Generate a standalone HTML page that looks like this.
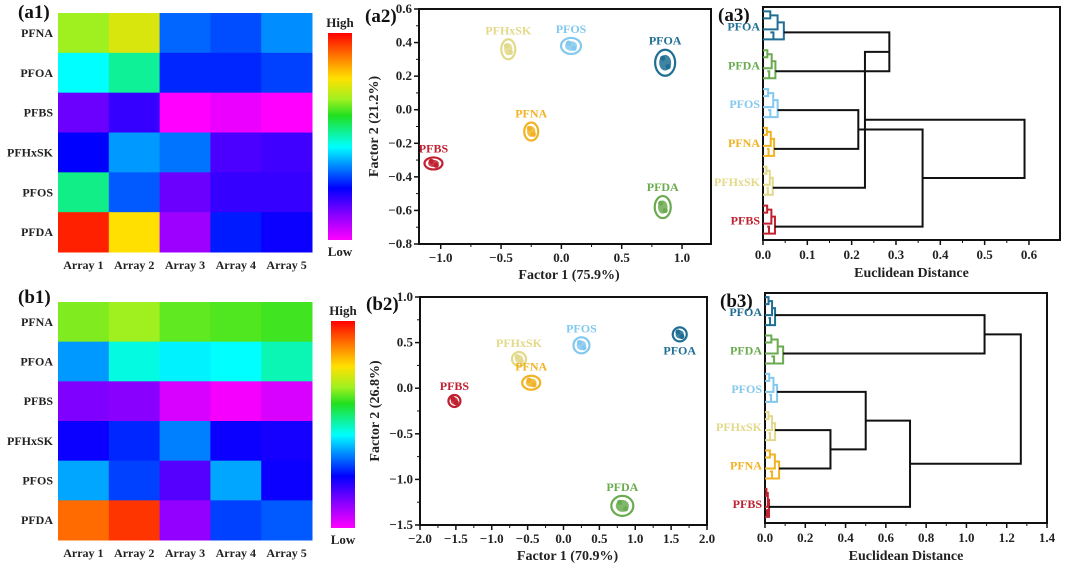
<!DOCTYPE html>
<html><head><meta charset="utf-8"><style>
html,body{margin:0;padding:0;background:#fff;}
svg{display:block;font-family:"Liberation Serif",serif;font-weight:bold;}
</style></head><body>
<svg id="fig" width="1070" height="575" viewBox="0 0 1070 575" xmlns="http://www.w3.org/2000/svg">
<defs>
<linearGradient id="cbar" x1="0" y1="1" x2="0" y2="0">
<stop offset="0" stop-color="#ff00ff"/><stop offset="0.13" stop-color="#8000ff"/><stop offset="0.25" stop-color="#0000ff"/><stop offset="0.35" stop-color="#0080ff"/><stop offset="0.45" stop-color="#00ffff"/><stop offset="0.6" stop-color="#20e020"/><stop offset="0.68" stop-color="#a0f020"/><stop offset="0.78" stop-color="#ffe000"/><stop offset="0.88" stop-color="#ff8000"/><stop offset="1" stop-color="#ff0000"/>
</linearGradient>
</defs>
</svg>
<script>
const compounds = ['PFNA','PFOA','PFBS','PFHxSK','PFOS','PFDA'];
const arrays = ['Array 1','Array 2','Array 3','Array 4','Array 5'];
const heatA = [[0.68,0.74,0.33,0.31,0.36],[0.45,0.52,0.28,0.28,0.30],[0.15,0.20,0.00,0.02,0.00],[0.25,0.37,0.34,0.18,0.19],[0.53,0.32,0.15,0.20,0.20],[0.97,0.78,0.10,0.27,0.24]];
const heatB = [[0.66,0.68,0.64,0.63,0.62],[0.37,0.47,0.44,0.45,0.50],[0.13,0.12,0.04,0.01,0.04],[0.24,0.28,0.35,0.24,0.23],[0.38,0.30,0.17,0.38,0.24],[0.90,0.95,0.11,0.30,0.32]];
const pcaNames = ['PFHxSK','PFOS','PFOA','PFNA','PFBS','PFDA'];
const pcaAx = [-0.44,0.08,0.86,-0.25,-1.06,0.84];
const pcaAy = [0.36,0.38,0.28,-0.13,-0.32,-0.58];
const pcaBx = [-0.62,0.25,1.62,-0.45,-1.52,0.82];
const pcaBy = [0.32,0.47,0.59,0.06,-0.14,-1.29];
const xTicksA = [-1.0,-0.5,0.0,0.5,1.0];
const yTicksA = [-0.8,-0.6,-0.4,-0.2,0.0,0.2,0.4,0.6];
const xTicksB = [-2.0,-1.5,-1.0,-0.5,0.0,0.5,1.0,1.5,2.0];
const yTicksB = [-1.5,-1.0,-0.5,0.0,0.5,1.0];
const dendLeavesA = ['PFOA','PFDA','PFOS','PFNA','PFHxSK','PFBS'];
const dendSubA = [0.047,0.028,0.033,0.025,0.022,0.027];
const dendMergeA = [[0,1,0.285],[2,3,0.215],[6,4,0.23],[7,5,0.36],[8,9,0.59]];
const dendTicksA = [0.0,0.1,0.2,0.3,0.4,0.5,0.6];
const dendLeavesB = ['PFOA','PFDA','PFOS','PFHxSK','PFNA','PFBS'];
const dendSubB = [0.05,0.09,0.06,0.05,0.07,0.02];
const dendMergeB = [[0,1,1.09],[3,4,0.325],[2,7,0.5],[8,5,0.72],[6,9,1.27]];
const dendTicksB = [0.0,0.2,0.4,0.6,0.8,1.0,1.2,1.4];

const colorOf = {PFOA:'#1f6e94',PFDA:'#6aab4f',PFOS:'#83c8ee',PFNA:'#f0b323',PFHxSK:'#e2d98a',PFBS:'#c0202f'};
const NS='http://www.w3.org/2000/svg';
const svg=document.getElementById('fig');
function mk(tag,attrs,parent){const e=document.createElementNS(NS,tag);for(const k in attrs)e.setAttribute(k,attrs[k]);(parent||svg).appendChild(e);return e;}
function txt(s,x,y,size,anchor,fill,parent){const t=mk('text',{x:x,y:y,'font-size':size,'text-anchor':anchor||'start',fill:fill||'#222'},parent);t.textContent=s;return t;}
const stops=[[0,[255,0,255]],[0.13,[128,0,255]],[0.25,[0,0,255]],[0.35,[0,128,255]],[0.45,[0,255,255]],[0.6,[32,224,32]],[0.68,[160,240,32]],[0.78,[255,224,0]],[0.88,[255,128,0]],[1,[255,0,0]]];
function cmap(v){for(let i=1;i<stops.length;i++){if(v<=stops[i][0]){const a=stops[i-1],b=stops[i],t=(v-a[0])/(b[0]-a[0]);return 'rgb('+a[1].map((c,j)=>Math.round(c+(b[1][j]-c)*t)).join(',')+')';}}return 'rgb(255,0,0)';}
function fmt(v){const s=Math.abs(v).toFixed(1);return (v<-1e-9?'\u2212':'')+s;}

function heatmap(name,data,x0,y0,x1,y1,cbx,cby0,cby1,label,ly){
  const g=mk('g',{});
  
  
  const cw=(x1-x0)/arrays.length,rh=(y1-y0)/compounds.length;
  data.forEach((row,r)=>row.forEach((v,c)=>{
    const rc=mk('rect',{x:x0+c*cw,y:y0+r*rh,width:cw+0.5,height:rh+0.5,fill:cmap(v)},g);
    
    
  }));
  compounds.forEach((n,r)=>{const t=txt(n,x0-5,y0+(r+0.5)*rh+4,12,'end','#222',g);});
  arrays.forEach((n,c)=>{const t=txt(n,x0+(c+0.5)*cw,y1+17,12,'middle','#222',g);});
  const cb=mk('rect',{x:cbx,y:cby0,width:24,height:cby1-cby0,fill:'url(#cbar)'},g);
  
  
  const hi=txt('High',cbx+12,cby0-6,13,'middle','#222',g);
  const lo=txt('Low',cbx+12,cby1+16,13,'middle','#222',g);
  const pl=txt(label,x0-40,ly,19,'start','#111',g);
}
heatmap('heatmap-a1',heatA,58,13,312,252,328,33,240,'(a1)',18);
heatmap('heatmap-b1',heatB,58,302,312,540,331,321,528,'(b1)',303);

function pca(name,xs,ys,nm,box,xd,yd,xt,yt,minorX,minorY,xtitle,ytitle,label,sizes,belowIdx){
  const g=mk('g',{});
  
  
  const [bx0,by0,bx1,by1]=box;
  const sx=v=>bx0+(v-xd[0])/(xd[1]-xd[0])*(bx1-bx0);
  const sy=v=>by1-(v-yd[0])/(yd[1]-yd[0])*(by1-by0);
  const fr=mk('rect',{x:bx0,y:by0,width:bx1-bx0,height:by1-by0,fill:'none',stroke:'#111','stroke-width':2},g);
  
  xt.forEach(v=>{mk('line',{x1:sx(v),x2:sx(v),y1:by1,y2:by1+5,stroke:'#111','stroke-width':1.5},g);
    const t=txt(fmt(v),sx(v),by1+18,13,'middle','#222',g);});
  for(let i=0;i<xt.length-1;i++){const v=(xt[i]+xt[i+1])/2;mk('line',{x1:sx(v),x2:sx(v),y1:by1,y2:by1+3,stroke:'#111','stroke-width':1},g);}
  yt.forEach(v=>{mk('line',{x1:bx0-5,x2:bx0,y1:sy(v),y2:sy(v),stroke:'#111','stroke-width':1.5},g);
    const t=txt(fmt(v),bx0-7,sy(v)+4,13,'end','#222',g);});
  for(let i=0;i<yt.length-1;i++){const v=(yt[i]+yt[i+1])/2;mk('line',{x1:bx0-3,x2:bx0,y1:sy(v),y2:sy(v),stroke:'#111','stroke-width':1},g);}
  const xtl=txt(xtitle,(bx0+bx1)/2+4,by1+35,14,'middle','#222',g);
  const cy=(by0+by1)/2;
  const ytl=txt(ytitle,0,0,14,'middle','#222',g);ytl.setAttribute('transform','translate('+(bx0-41)+','+cy+') rotate(-90)');
  
  const pl=txt(label,bx0-54,by0+13,19,'start','#111',g);
  xs.forEach((v,i)=>{
    const n=nm[i],col=colorOf[n],cx=sx(v),cyy=sy(ys[i]),[rx,ry]=sizes[i];
    const cg=mk('g',{},g);
    
    
    mk('ellipse',{cx:cx,cy:cyy,rx:rx,ry:ry,fill:'#fff',stroke:col,'stroke-width':2.2},cg);
    mk('ellipse',{cx:cx,cy:cyy,rx:rx*0.6,ry:ry*0.6,fill:col,opacity:0.85},cg);
    mk('circle',{cx:cx-rx*0.25,cy:cyy-ry*0.35,r:2.6,fill:col},cg);
    mk('circle',{cx:cx+rx*0.3,cy:cyy+ry*0.3,r:2.6,fill:col},cg);
    const ty=belowIdx===i?cyy+ry+13:cyy-ry-5;
    const t=txt(n,cx,ty,12,'middle',col,cg);
  });
}
pca('pca-a2',pcaAx,pcaAy,pcaNames,[419,9,711,244],[-1.18,1.24],[-0.8,0.6],xTicksA,yTicksA,true,true,'Factor 1 (75.9%)','Factor 2 (21.2%)','(a2)',[[7,10],[10,8],[10,13],[7,9],[9,6],[8,11]],-1);
pca('pca-b2',pcaBx,pcaBy,pcaNames,[420,297,707,525],[-2.0,2.0],[-1.5,1.0],xTicksB,yTicksB,true,true,'Factor 1 (70.9%)','Factor 2 (26.8%)','(b2)',[[7,7],[8,8],[7,7],[9,7],[6,6],[11,10]],2);

function dendro(name,leaves,subs,merges,box,xmax,ticks,label,attachDy){
  const g=mk('g',{});
  
  
  const [bx0,by0,bx1,by1]=box;
  const sx=v=>bx0+v/xmax*(bx1-bx0);
  const lh=(by1-by0)/leaves.length;
  const fr=mk('rect',{x:bx0,y:by0,width:bx1-bx0,height:by1-by0,fill:'none',stroke:'#111','stroke-width':2},g);
  
  ticks.forEach(v=>{mk('line',{x1:sx(v),x2:sx(v),y1:by1,y2:by1+5,stroke:'#111','stroke-width':1.5},g);
    const t=txt(v.toFixed(1),sx(v),by1+19,13,'middle','#222',g);});
  for(let i=0;i<ticks.length-1;i++){const v=(ticks[i]+ticks[i+1])/2;mk('line',{x1:sx(v),x2:sx(v),y1:by1,y2:by1+3,stroke:'#111','stroke-width':1},g);}
  const xtl=txt('Euclidean Distance',(bx0+bx1)/2,by1+37,14,'middle','#222',g);
  const pl=txt(label,bx0-45,by0+14,19,'start','#111',g);
  const nodes=[];
  leaves.forEach((n,i)=>{
    const col=colorOf[n],y=by0+(i+0.5)*lh,h=subs[i];
    const lg=mk('g',{},g);
    
    
    const ay=y+attachDy;
    const p='M'+sx(0)+','+(y-15)+'H'+sx(h*0.35)+'V'+(y-8)+'H'+sx(0)+
      'M'+sx(h*0.35)+','+(y-11)+'H'+sx(h*0.7)+'V'+(y+3)+'H'+sx(0)+
      'M'+sx(0)+','+(y+13)+'H'+sx(h)+'V'+(y-4)+'H'+sx(h*0.7)+
      'M'+sx(h*0.35)+','+(y+6)+'H'+sx(h*0.5)+'V'+(y+13);
    mk('path',{d:p,fill:'none',stroke:col,'stroke-width':2},lg);
    const t=txt(n,bx0-3,y+4,12,'end',col,lg);
    nodes.push({x:h,y:ay});
  });
  merges.forEach(m=>{
    const a=nodes[m[0]],b=nodes[m[1]],h=m[2];
    const l=mk('path',{d:'M'+sx(a.x)+','+a.y+'H'+sx(h)+'V'+b.y+'H'+sx(b.x),fill:'none',stroke:'#111','stroke-width':2},g);
    
    
    nodes.push({x:h,y:(a.y+b.y)/2});
  });
}
dendro('dendrogram-a3',dendLeavesA,dendSubA,dendMergeA,[763,7,1060,240],0.67,dendTicksA,'(a3)',6);
dendro('dendrogram-b3',dendLeavesB,dendSubB,dendMergeB,[765,293,1047,523],1.4,dendTicksB,'(b3)',3);
</script>
</body></html>
